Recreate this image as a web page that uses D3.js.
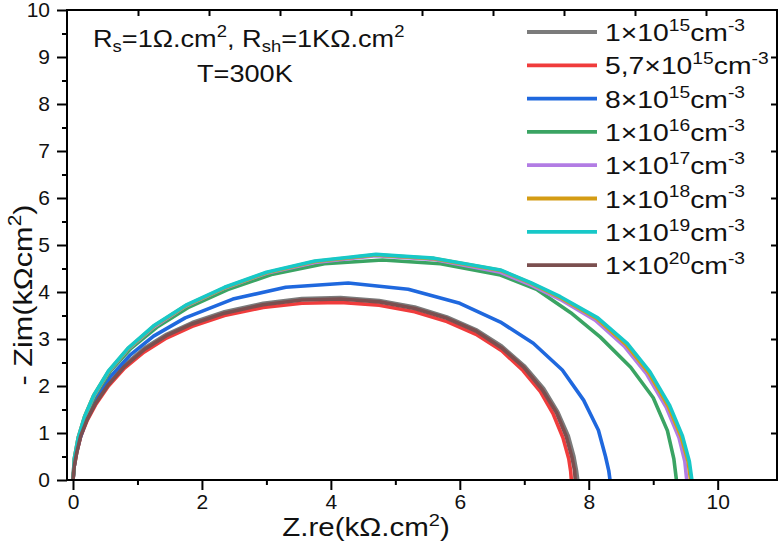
<!DOCTYPE html>
<html>
<head>
<meta charset="utf-8">
<script src="https://cdn.jsdelivr.net/npm/d3@7"></script>
<style>
  body { margin: 0; background: #fff; }
  svg { display: block; font-family: "Liberation Sans", Arial, sans-serif; }
</style>
</head>
<body>
<svg id="chart" width="779" height="542"></svg>
<script>
// legend labels: mantissa, exponent
const labels = [["1", "15"], ["5,7", "15"], ["8", "15"], ["1", "16"], ["1", "17"], ["1", "18"], ["1", "19"], ["1", "20"]];
const colors = ["#7b7b7b", "#f03c3c", "#1f68de", "#3aa463", "#b27ce4", "#d49c14", "#17c8c8", "#7b4f4f"];

// Z.re (kOhm.cm2) / -Zim (kOhm.cm2)
const re_1e15 = [0, 0.02, 0.06, 0.12, 0.22, 0.35, 0.55, 0.8, 1.1, 1.45, 1.85, 2.35, 2.95, 3.55, 4.15, 4.75, 5.3, 5.8, 6.25, 6.65, 7.0, 7.3, 7.52, 7.68, 7.77, 7.81, 7.83];
const im_1e15 = [0, 0.3, 0.6, 0.95, 1.3, 1.65, 2.05, 2.45, 2.8, 3.1, 3.35, 3.58, 3.76, 3.86, 3.88, 3.82, 3.68, 3.47, 3.2, 2.85, 2.43, 1.95, 1.45, 0.95, 0.5, 0.2, 0];
const re_57e15 = [0, 0.02, 0.06, 0.12, 0.22, 0.35, 0.55, 0.8, 1.1, 1.45, 1.85, 2.35, 2.95, 3.55, 4.15, 4.75, 5.3, 5.8, 6.25, 6.65, 6.98, 7.25, 7.45, 7.6, 7.69, 7.72, 7.73];
const im_57e15 = [0, 0.3, 0.6, 0.93, 1.27, 1.6, 2.0, 2.38, 2.72, 3.02, 3.27, 3.5, 3.67, 3.76, 3.78, 3.72, 3.58, 3.37, 3.1, 2.75, 2.33, 1.88, 1.4, 0.9, 0.45, 0.18, 0];
const re_8e15 = [0, 0.03, 0.1, 0.2, 0.35, 0.58, 0.88, 1.25, 1.74, 2.48, 3.3, 4.27, 5.2, 6.0, 6.63, 7.14, 7.59, 7.92, 8.15, 8.26, 8.31, 8.33];
const im_8e15 = [0, 0.45, 0.85, 1.25, 1.7, 2.2, 2.65, 3.06, 3.45, 3.85, 4.1, 4.19, 4.06, 3.76, 3.36, 2.91, 2.34, 1.7, 1.06, 0.5, 0.2, 0];
const re_1e16 = [0, 0.03, 0.1, 0.2, 0.35, 0.58, 0.9, 1.3, 1.8, 2.4, 3.1, 3.9, 4.8, 5.7, 6.63, 7.2, 7.72, 8.18, 8.65, 9.0, 9.22, 9.32, 9.36];
const im_1e16 = [0, 0.5, 0.95, 1.38, 1.82, 2.32, 2.8, 3.25, 3.68, 4.05, 4.38, 4.6, 4.68, 4.6, 4.36, 4.05, 3.56, 3.04, 2.4, 1.75, 1.05, 0.45, 0];
const re_1e17 = [0, 0.02, 0.08, 0.18, 0.32, 0.55, 0.85, 1.25, 1.75, 2.35, 3.0, 3.75, 4.7, 5.6, 6.63, 7.1, 7.56, 8.1, 8.55, 8.9, 9.2, 9.4, 9.49, 9.52];
const im_1e17 = [0, 0.45, 0.9, 1.34, 1.78, 2.3, 2.78, 3.25, 3.7, 4.08, 4.4, 4.63, 4.77, 4.69, 4.42, 4.15, 3.84, 3.4, 2.85, 2.25, 1.55, 0.9, 0.4, 0];
const re_1e18 = [0, 0.02, 0.08, 0.18, 0.32, 0.55, 0.85, 1.25, 1.75, 2.35, 3.0, 3.75, 4.7, 5.6, 6.63, 7.1, 7.56, 8.13, 8.58, 8.93, 9.23, 9.43, 9.54, 9.58];
const im_1e18 = [0, 0.45, 0.9, 1.35, 1.8, 2.31, 2.79, 3.27, 3.71, 4.09, 4.41, 4.65, 4.79, 4.71, 4.46, 4.19, 3.88, 3.43, 2.88, 2.28, 1.58, 0.93, 0.4, 0];
const re_1e19 = [0, 0.02, 0.08, 0.18, 0.32, 0.55, 0.85, 1.25, 1.75, 2.35, 3.0, 3.75, 4.7, 5.6, 6.63, 7.1, 7.56, 8.14, 8.6, 8.95, 9.25, 9.45, 9.56, 9.6];
const im_1e19 = [0, 0.45, 0.9, 1.35, 1.8, 2.32, 2.8, 3.28, 3.72, 4.1, 4.42, 4.66, 4.8, 4.72, 4.47, 4.2, 3.9, 3.45, 2.9, 2.3, 1.6, 0.95, 0.4, 0];
const re_1e20 = [0, 0.02, 0.06, 0.12, 0.22, 0.35, 0.55, 0.8, 1.1, 1.45, 1.85, 2.35, 2.95, 3.55, 4.15, 4.75, 5.3, 5.8, 6.25, 6.65, 6.99, 7.28, 7.5, 7.65, 7.74, 7.78, 7.79];
const im_1e20 = [0, 0.3, 0.6, 0.94, 1.29, 1.63, 2.03, 2.42, 2.77, 3.07, 3.32, 3.55, 3.73, 3.83, 3.85, 3.79, 3.65, 3.44, 3.17, 2.81, 2.4, 1.92, 1.43, 0.93, 0.48, 0.2, 0];

const seriesRe = [re_1e15, re_57e15, re_8e15, re_1e16, re_1e17, re_1e18, re_1e19, re_1e20];
const seriesIm = [im_1e15, im_57e15, im_8e15, im_1e16, im_1e17, im_1e18, im_1e19, im_1e20];

const xMajor = [0, 2, 4, 6, 8, 10];
const xMinor = [1, 3, 5, 7, 9];
const yMajor = [0, 1, 2, 3, 4, 5, 6, 7, 8, 9, 10];
const yMinor = [0.5, 1.5, 2.5, 3.5, 4.5, 5.5, 6.5, 7.5, 8.5, 9.5];
const topTicks = [1, 2, 3, 4, 5, 6, 7, 8, 9];

const box = { left: 67, right: 777, top: 10, bottom: 480 };
const stretch = 1.18; // the lettering in the figure is drawn wide

const svg = d3.select("#chart");

const x = d3.scaleLinear().domain([-0.093, 10.92]).range([box.left, box.right]);
const y = d3.scaleLinear().domain([0, 10]).range([box.bottom, box.top]);
const xTop = d3.scaleLinear().domain([0, 10]).range([box.left, box.right]);

// curves
const line = d3.line().x((d) => x(d[0])).y((d) => y(d[1]));
seriesRe.forEach((re, i) => {
  const pts = re.map((v, k) => [v, seriesIm[i][k]]);
  svg.append("path")
    .datum(pts)
    .attr("d", line)
    .attr("fill", "none")
    .attr("stroke", colors[i])
    .attr("stroke-width", 3.6)
    .attr("stroke-linejoin", "round");
});

// frame
svg.append("rect")
  .attr("x", box.left).attr("y", box.top)
  .attr("width", box.right - box.left).attr("height", box.bottom - box.top)
  .attr("fill", "none").attr("stroke", "#000").attr("stroke-width", 2);

function styleAxis(g, fs) {
  g.select(".domain").remove();
  g.selectAll("line").attr("stroke", "#000").attr("stroke-width", 2);
  g.selectAll("text").attr("fill", "#111").attr("font-size", fs).attr("font-family", "Liberation Sans, Arial, sans-serif");
}

// bottom axis
svg.append("g").attr("transform", `translate(0,${box.bottom})`)
  .call(d3.axisBottom(x).tickValues(xMajor).tickSize(10).tickPadding(4).tickFormat(d3.format("d")))
  .call((g) => styleAxis(g, 21));
svg.append("g").attr("transform", `translate(0,${box.bottom})`)
  .call(d3.axisBottom(x).tickValues(xMinor).tickSize(5).tickFormat(""))
  .call((g) => styleAxis(g, 21));

// left axis
svg.append("g").attr("transform", `translate(${box.left},0)`)
  .call(d3.axisLeft(y).tickValues(yMajor).tickSize(10).tickPadding(7).tickFormat(d3.format("d")))
  .call((g) => styleAxis(g, 21));
svg.append("g").attr("transform", `translate(${box.left},0)`)
  .call(d3.axisLeft(y).tickValues(yMinor).tickSize(5).tickFormat(""))
  .call((g) => styleAxis(g, 21));

// top and right inner ticks
svg.append("g").attr("transform", `translate(0,${box.top})`)
  .call(d3.axisTop(xTop).tickValues(topTicks).tickSize(-6).tickFormat(""))
  .call((g) => styleAxis(g, 21));
svg.append("g").attr("transform", `translate(${box.right},0)`)
  .call(d3.axisRight(y).tickValues(yMajor.slice(1, 10)).tickSize(-6).tickFormat(""))
  .call((g) => styleAxis(g, 21));

// rich text: parts are [text, kind] with kind "" | "sup" | "sub"
function richText(tx, ty, fs, anchor, parts, sx, rotate) {
  const g = svg.append("g")
    .attr("transform", `translate(${tx},${ty})${rotate ? " rotate(-90)" : ""} scale(${sx},1)`);
  const t = g.append("text")
    .attr("font-size", fs)
    .attr("text-anchor", anchor)
    .attr("fill", "#111");
  let shift = 0;
  parts.forEach(([s, kind]) => {
    let target = 0;
    if (kind === "sup") target = -fs * 0.42;
    if (kind === "sub") target = fs * 0.22;
    t.append("tspan")
      .attr("font-size", kind ? fs * 0.68 : fs)
      .attr("dy", target - shift)
      .text(s);
    shift = target;
  });
  return t;
}

// x title
richText(366, 536, 25, "middle", [["Z.re(k\u03a9.cm", ""], ["2", "sup"], [")", ""]], stretch);

// y title
richText(32, 295, 26, "middle", [["- Zim(k\u03a9cm", ""], ["2", "sup"], [")", ""]], stretch, true);

// annotation
richText(93, 47, 23, "start", [["R", ""], ["s", "sub"], ["=1\u03a9.cm", ""], ["2", "sup"], [", R", ""], ["sh", "sub"], ["=1K\u03a9.cm", ""], ["2", "sup"]], stretch);
richText(197, 82, 23, "start", [["T=300K", ""]], stretch);

// legend
const legY0 = 32, legStep = 33.3;
labels.forEach((lab, i) => {
  const ly = legY0 + i * legStep;
  svg.append("line")
    .attr("x1", 527).attr("x2", 597).attr("y1", ly).attr("y2", ly)
    .attr("stroke", colors[i]).attr("stroke-width", 3.8);
  richText(605, ly + 9, 24, "start", [[lab[0] + "\u00d710", ""], [lab[1], "sup"], ["cm", ""], ["-3", "sup"]], stretch);
});
</script>
</body>
</html>
